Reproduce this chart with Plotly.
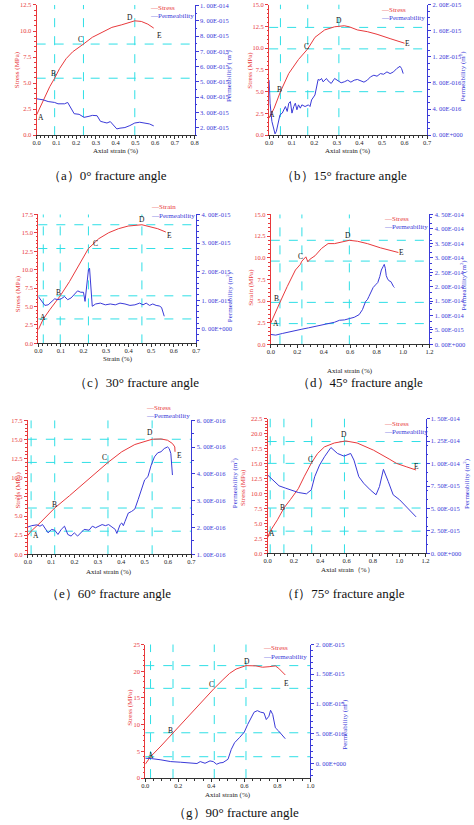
import plotly.graph_objects as go

W, H = 474, 825
FONT = "Liberation Serif, Times New Roman, serif"
RED = "#e8393c"
BLUE = "#3a3ad8"
CYAN = "#2fdfe6"

# ---------------- data ----------------
# (a) 0 deg  (permeability in 1e-15 m^2)
a_stress_strain = [0, 0.033, 0.066, 0.091, 0.116, 0.149, 0.182, 0.237, 0.282, 0.331, 0.381, 0.431, 0.497, 0.53, 0.563, 0.593]
a_stress = [1.96, 3.39, 4.65, 5.47, 6.39, 7.34, 8.0, 8.75, 9.4, 9.87, 10.35, 10.6, 10.98, 10.92, 10.66, 10.28]
a_perm_strain = [0, 0.033, 0.058, 0.091, 0.108, 0.141, 0.157, 0.174, 0.19, 0.215, 0.24, 0.265, 0.282, 0.306,
                 0.323, 0.34, 0.356, 0.373, 0.389, 0.406, 0.422, 0.447, 0.472, 0.497, 0.522, 0.547, 0.571, 0.593]
a_perm = [3.89, 3.82, 3.71, 3.65, 3.56, 3.56, 3.65, 3.28, 2.91, 2.87, 2.67, 2.74, 2.8, 2.78,
          2.41, 2.35, 2.3, 2.39, 2.17, 1.91, 1.96, 2.0, 2.13, 2.3, 2.35, 2.3, 2.24, 2.11]
a_points = ["A", "B", "C", "D", "E"]
a_point_x = [0.02, 0.083, 0.22, 0.475, 0.621]
a_point_y = [1.71, 5.92, 9.15, 11.3, 9.56]
a_grid_x = [0.091, 0.237, 0.497]
a_grid_y = [5.47, 8.75]
a_rtick_vals = [2, 3, 4, 5, 6, 7, 8, 9, 10]
a_rtick_text = ["2. 00E-015", "3. 00E-015", "4. 00E-015", "5. 00E-015", "6. 00E-015",
                "7. 00E-015", "8. 00E-015", "9. 00E-015", "1. 00E-014"]

# (b) 15 deg  (permeability in 1e-16 m^2)
b_stress_strain = [0, 0.022, 0.05, 0.087, 0.13, 0.171, 0.203, 0.246, 0.29, 0.333, 0.355, 0.391, 0.435, 0.478, 0.536, 0.6]
b_stress = [1.97, 3.1, 5.0, 7.1, 8.7, 9.92, 11.25, 12.1, 12.46, 12.58, 12.46, 12.1, 11.9, 11.6, 11.1, 10.57]
b_perm_strain = [0, 0.004, 0.012, 0.022, 0.026, 0.032, 0.041, 0.048, 0.058, 0.065, 0.072, 0.080, 0.087, 0.094,
                 0.101, 0.109, 0.116, 0.123, 0.130, 0.138, 0.145, 0.159, 0.174, 0.181, 0.188, 0.203, 0.210,
                 0.217, 0.225, 0.232, 0.239, 0.246, 0.254, 0.261, 0.275, 0.290, 0.304, 0.319, 0.333, 0.348,
                 0.362, 0.377, 0.391, 0.406, 0.420, 0.435, 0.449, 0.464, 0.478, 0.493, 0.507, 0.522, 0.536,
                 0.551, 0.565, 0.580, 0.587, 0.594]
b_perm = [8.43, 4.9, 2.12, 0.86, 0.2, 0.6, 2.37, 3.13, 3.38, 3.89, 4.39, 3.64, 4.9, 5.15,
          3.38, 4.39, 4.9, 3.89, 4.65, 4.14, 4.65, 4.39, 4.65, 4.39, 5.4, 6.16, 7.17,
          8.54, 8.43, 8.69, 8.18, 8.43, 8.69, 8.33, 7.93, 8.69, 8.33, 8.03, 8.18, 8.43,
          8.13, 8.43, 8.54, 8.33, 8.13, 8.43, 8.94, 9.19, 9.04, 9.44, 9.34, 9.70, 9.44,
          9.70, 10.2, 10.56, 10.2, 9.44]
b_points = ["A", "B", "C", "D", "E"]
b_point_x = [0.0145, 0.048, 0.167, 0.309, 0.613]
b_point_y = [2.35, 5.27, 10.23, 13.14, 10.57]
b_grid_x = [0.05, 0.171, 0.309]
b_grid_y = [5.0, 9.92, 12.39]
b_rtick_vals = [0, 4, 8, 12, 16, 20]
b_rtick_text = ["0. 00E+000", "4. 00E-016", "8. 00E-016", "1. 20E-015", "1. 60E-015", "2. 00E-015"]

# (c) 30 deg  (permeability in 1e-15 m^2)
c_stress_strain = [0, 0.022, 0.051, 0.097, 0.138, 0.181, 0.222, 0.268, 0.312, 0.355, 0.398, 0.459, 0.485, 0.529, 0.565]
c_stress = [1.88, 3.32, 4.58, 6.46, 8.39, 10.63, 12.88, 14.22, 15.03, 15.57, 15.93, 16.11, 15.93, 15.57, 15.12]
c_perm_strain = [0, 0.0145, 0.029, 0.0435, 0.058, 0.0725, 0.087, 0.101, 0.116, 0.13, 0.145, 0.159, 0.174,
                 0.188, 0.2, 0.207, 0.214, 0.222, 0.227, 0.233, 0.239, 0.254, 0.275, 0.297, 0.319, 0.341,
                 0.362, 0.384, 0.406, 0.428, 0.449, 0.464, 0.478, 0.493, 0.507, 0.522, 0.536, 0.546, 0.553, 0.558]
c_perm = [1.13, 0.96, 0.82, 0.84, 0.96, 1.05, 1.02, 1.05, 1.13, 1.02, 1.08, 1.19, 1.33,
          1.28, 1.28, 0.96, 1.42, 2.06, 2.12, 1.54, 0.79, 0.87, 0.90, 0.84, 0.87, 0.84,
          0.90, 0.87, 0.82, 0.84, 0.90, 0.84, 0.90, 0.82, 0.87, 0.82, 0.80, 0.75, 0.55, 0.44]
c_points = ["A", "B", "C", "D", "E"]
c_point_x = [0.019, 0.091, 0.254, 0.459, 0.582]
c_point_y = [3.54, 6.96, 13.55, 16.83, 14.67]
c_grid_x = [0.022, 0.097, 0.222, 0.459]
c_grid_y = [3.32, 6.46, 12.88, 16.11]
c_rtick_vals = [0, 1, 2, 3, 4]
c_rtick_text = ["0. 00E+000", "1. 00E-015", "2. 00E-015", "3. 00E-015", "4. 00E-015"]

# (d) 45 deg  (permeability in 1e-14 m^2)
d_stress_strain = [0, 0.032, 0.069, 0.124, 0.186, 0.223, 0.235, 0.265, 0.28, 0.297, 0.334, 0.383, 0.433,
                   0.482, 0.532, 0.594, 0.656, 0.73, 0.829, 0.915, 0.965]
d_stress = [2.48, 3.63, 4.85, 6.68, 8.59, 9.24, 9.62, 10.11, 9.54, 9.85, 10.23, 11.07, 11.64,
            11.64, 11.83, 12.02, 11.91, 11.64, 11.15, 10.76, 10.61]
d_perm_strain = [0, 0.037, 0.087, 0.136, 0.186, 0.235, 0.285, 0.334, 0.383, 0.433, 0.482, 0.52, 0.557,
                 0.594, 0.631, 0.668, 0.693, 0.717, 0.73, 0.742, 0.76, 0.774, 0.792, 0.809, 0.824, 0.836,
                 0.849, 0.858, 0.866, 0.873, 0.883, 0.895, 0.908, 0.918, 0.928, 0.935]
d_perm = [0.344, 0.321, 0.378, 0.435, 0.481, 0.527, 0.573, 0.619, 0.664, 0.722, 0.767, 0.836, 0.848,
          0.893, 0.939, 1.031, 1.203, 1.489, 1.546, 1.661, 1.833, 1.970, 2.062, 2.142, 2.348, 2.577,
          2.692, 2.772, 2.634, 2.383, 2.268, 2.199, 2.176, 2.062, 2.005, 1.970]
d_points = ["A", "B", "C", "D", "E"]
d_point_x = [0.037, 0.042, 0.228, 0.581, 0.99]
d_point_y = [2.4, 5.27, 10.19, 12.6, 10.57]
d_grid_x = [0.069, 0.235, 0.594]
d_grid_y = [2.4, 4.85, 9.62, 12.02]
d_rtick_vals = [0, 0.5, 1, 1.5, 2, 2.5, 3, 3.5, 4, 4.5]
d_rtick_text = ["0. 00E+000", "5. 00E-015", "1. 00E-014", "1. 50E-014", "2. 00E-014",
                "2. 50E-014", "3. 00E-014", "3. 50E-014", "4. 00E-014", "4. 50E-014"]

# (e) 60 deg  (permeability in 1e-16 m^2)
e_stress_strain = [0, 0.014, 0.052, 0.115, 0.178, 0.248, 0.343, 0.402, 0.458, 0.532, 0.57, 0.598, 0.619, 0.629, 0.63]
e_stress = [2.46, 3.02, 4.1, 6.05, 7.65, 9.51, 12.01, 13.4, 14.35, 15.04, 15.08, 14.91, 14.48, 14.04, 13.4]
e_perm_strain = [0, 0.017, 0.038, 0.052, 0.063, 0.073, 0.087, 0.101, 0.115, 0.129, 0.143, 0.157, 0.171,
                 0.185, 0.199, 0.213, 0.227, 0.241, 0.262, 0.276, 0.29, 0.304, 0.318, 0.332, 0.346, 0.36,
                 0.374, 0.381, 0.388, 0.395, 0.402, 0.409, 0.416, 0.43, 0.444, 0.458, 0.472, 0.486, 0.5,
                 0.514, 0.528, 0.542, 0.556, 0.57, 0.584, 0.598, 0.605, 0.612, 0.616, 0.619]
e_perm = [2.02, 2.07, 2.10, 2.05, 2.11, 1.99, 1.80, 1.93, 1.90, 1.74, 1.93, 2.05, 1.74,
          1.68, 1.80, 1.68, 1.80, 1.93, 1.90, 2.05, 1.99, 2.05, 2.11, 2.07, 2.11, 2.02,
          1.93, 1.78, 1.93, 2.11, 2.17, 2.07, 2.23, 2.54, 2.60, 2.69, 3.04, 3.41, 3.78,
          3.90, 4.33, 4.64, 4.79, 4.83, 4.95, 5.01, 4.95, 4.77, 4.40, 3.96]
e_points = ["A", "B", "C", "D", "E"]
e_point_x = [0.034, 0.112, 0.329, 0.524, 0.65]
e_point_y = [2.46, 6.48, 12.66, 15.86, 12.88]
e_grid_x = [0.014, 0.115, 0.343, 0.532]
e_grid_y = [3.02, 6.05, 12.01, 15.04]
e_rtick_vals = [1, 2, 3, 4, 5, 6]
e_rtick_text = ["1. 00E-016", "2. 00E-016", "3. 00E-016", "4. 00E-016", "5. 00E-016", "6. 00E-016"]

# (f) 75 deg  (permeability in 1e-14 m^2)
f_stress_strain = [0, 0.02, 0.075, 0.124, 0.174, 0.233, 0.28, 0.333, 0.38, 0.432, 0.507, 0.593, 0.68,
                   0.805, 0.929, 0.979, 1.053, 1.128]
f_stress = [2.6, 3.7, 5.6, 7.57, 9.0, 10.8, 12.9, 15.1, 16.7, 17.8, 18.45, 18.79, 18.45,
            17.24, 15.7, 15.04, 14.48, 13.93]
f_perm_strain = [0, 0.037, 0.087, 0.137, 0.186, 0.233, 0.295, 0.332, 0.358, 0.395, 0.432, 0.481, 0.531,
                 0.581, 0.631, 0.656, 0.693, 0.73, 0.78, 0.824, 0.85, 0.88, 0.917, 0.954, 1.003, 1.066, 1.128]
f_perm = [0.873, 0.818, 0.752, 0.726, 0.70, 0.678, 0.663, 0.707, 0.854, 0.984, 1.076, 1.179, 1.113,
          1.083, 1.113, 1.039, 0.854, 0.781, 0.707, 0.652, 0.744, 0.936, 0.799, 0.652, 0.597, 0.505, 0.406]
f_points = ["A", "B", "C", "D", "E"]
f_point_x = [0.037, 0.112, 0.323, 0.579, 1.13]
f_point_y = [3.32, 7.68, 15.7, 19.85, 14.48]
f_grid_x = [0.02, 0.124, 0.335, 0.584]
f_grid_y = [3.7, 7.57, 15.04, 18.69]
f_rtick_vals = [0, 0.25, 0.5, 0.75, 1.0, 1.25, 1.5]
f_rtick_text = ["0. 00E+000", "2. 50E-015", "5. 00E-015", "7. 50E-015", "1. 00E-014", "1. 25E-014", "1. 50E-014"]

# (g) 90 deg  (permeability in 1e-15 m^2)
g_stress_strain = [0, 0.032, 0.095, 0.168, 0.25, 0.33, 0.418, 0.47, 0.511, 0.55, 0.61, 0.67, 0.71, 0.75,
                   0.788, 0.808, 0.828, 0.848]
g_stress = [2.6, 4.0, 6.0, 8.48, 11.3, 14.0, 16.8, 18.4, 19.6, 20.4, 21.05, 21.0, 20.75, 20.85,
            21.0, 20.55, 19.9, 19.3]
g_perm_strain = [0, 0.036, 0.095, 0.154, 0.214, 0.273, 0.313, 0.333, 0.362, 0.392, 0.412, 0.432, 0.452,
                 0.471, 0.501, 0.521, 0.541, 0.570, 0.6, 0.62, 0.64, 0.659, 0.679, 0.699, 0.719, 0.733,
                 0.749, 0.759, 0.772, 0.788, 0.808, 0.828, 0.848]
g_perm = [0.084, 0.079, 0.057, 0.028, 0.017, 0.006, -0.005, 0.028, 0.0, 0.039, 0.028, -0.017, 0.006,
          0.012, 0.067, 0.234, 0.346, 0.43, 0.525, 0.652, 0.764, 0.86, 0.886, 0.86, 0.848, 0.736,
          0.792, 0.893, 0.82, 0.597, 0.542, 0.485, 0.413]
g_points = ["A", "B", "C", "D", "E"]
g_point_x = [0.032, 0.154, 0.402, 0.614, 0.854]
g_point_y = [4.27, 8.9, 17.6, 21.9, 17.76]
g_grid_x = [0.032, 0.168, 0.418, 0.61]
g_grid_y = [4.0, 8.48, 16.8, 21.05]
g_rtick_vals = [0, 0.5, 1.0, 1.5, 2.0]
g_rtick_text = ["0. 00E+000", "5. 00E-016", "1. 00E-015", "1. 50E-015", "2. 00E-015"]

captions = ["（a）0° fracture angle", "（b）15° fracture angle", "（c）30° fracture angle",
            "（d）45° fracture angle", "（e）60° fracture angle", "（f）75° fracture angle",
            "（g）90° fracture angle"]

# ---------------- layout per panel (pixel geometry) ----------------
panels = [
    dict(box=(33.3, 194.3, 1.0, 132.3), xr=[0, 0.8], xdt=0.1, yr=[0, 12.5], ydt=2.5, yfmt=".1f",
         rr=[1.5, 10.05], sx=a_stress_strain, sy=a_stress, px=a_perm_strain, py=a_perm,
         pts=(a_points, a_point_x, a_point_y), gx=a_grid_x, gy=a_grid_y, rtv=a_rtick_vals, rtt=a_rtick_text,
         leg=("Stress", 147, 4.0, 12.3), xt=("Axial strain (%)", 114, 148.5),
         lt=("Stress (MPa)", 14, 66), rt=("Permeability ( m<sup>2</sup>)", 229, 72), cap=(106, 172.7)),
    dict(box=(270.3, 431.3, 0.7, 132.3), xr=[0, 0.7], xdt=0.1, yr=[0, 15], ydt=2.5, yfmt=".1f",
         rr=[0, 20], sx=b_stress_strain, sy=b_stress, px=b_perm_strain, py=b_perm,
         pts=(b_points, b_point_x, b_point_y), gx=b_grid_x, gy=b_grid_y, rtv=b_rtick_vals, rtt=b_rtick_text,
         leg=("Stress", 382, 5.7, 14.0), xt=("Axial strain (%)", 351, 148.5),
         lt=("Stress (MPa)", 251, 67), rt=("Permeability (m<sup>2</sup>)", 467, 73), cap=(347, 172.7)),
    dict(box=(35, 196, 212.3, 342.3), xr=[0, 0.7], xdt=0.1, yr=[0, 17.5], ydt=2.5, yfmt=".1f",
         rr=[-0.509, 4.0], sx=c_stress_strain, sy=c_stress, px=c_perm_strain, py=c_perm,
         pts=(c_points, c_point_x, c_point_y), gx=c_grid_x, gy=c_grid_y, rtv=c_rtick_vals, rtt=c_rtick_text,
         leg=("Strain", 148, 205, 214), xt=("Strain (%)", 116, 358),
         lt=("Stress (MPa)", 14, 292), rt=("Permeability (m<sup>2</sup>)", 230, 295), cap=(135, 381.7)),
    dict(box=(272, 433.7, 212.3, 343.3), xr=[0, 1.2], xdt=0.2, yr=[0, 15], ydt=2.5, yfmt=".1f",
         rr=[0, 4.5], sx=d_stress_strain, sy=d_stress, px=d_perm_strain, py=d_perm,
         pts=(d_points, d_point_x, d_point_y), gx=d_grid_x, gy=d_grid_y, rtv=d_rtick_vals, rtt=d_rtick_text,
         leg=("Stress", 385, 216.7, 225), xt=("Axial strain (%)", 353, 370),
         lt=("Strain (MPa)", 251, 286), rt=("Permeability (m<sup>2</sup>)", 468.7, 283), cap=(362.5, 381.7)),
    dict(box=(24.3, 191, 420, 555), xr=[0, 0.7], xdt=0.1, yr=[0, 17.5], ydt=2.5, yfmt=".1f",
         rr=[1, 6], sx=e_stress_strain, sy=e_stress, px=e_perm_strain, py=e_perm,
         pts=(e_points, e_point_x, e_point_y), gx=e_grid_x, gy=e_grid_y, rtv=e_rtick_vals, rtt=e_rtick_text,
         leg=("Stress", 143, 407, 415.7), xt=("Axial strain (%)", 107.5, 572.7),
         lt=("Stress (MPa)", 14, 490), rt=("Permeability (m<sup>2</sup>)", 235.7, 483), cap=(106.7, 595)),
    dict(box=(268.7, 429.7, 418.3, 554), xr=[0, 1.2], xdt=0.2, yr=[0, 22.5], ydt=2.5, yfmt=".1f",
         rr=[0, 1.5], sx=f_stress_strain, sy=f_stress, px=f_perm_strain, py=f_perm,
         pts=(f_points, f_point_x, f_point_y), gx=f_grid_x, gy=f_grid_y, rtv=f_rtick_vals, rtt=f_rtick_text,
         leg=("Stress", 385, 423.3, 432), xt=("Axial strain（%）", 350, 570.7),
         lt=("Stress (MPa)", 244.3, 487.5), rt=("Permeability (m<sup>2</sup>)", 472, 484), cap=(346, 595)),
    dict(box=(144, 312.3, 646, 780.7), xr=[0, 1.0], xdt=0.2, yr=[0, 25], ydt=5, yfmt="d",
         rr=[-0.25, 2.0], sx=g_stress_strain, sy=g_stress, px=g_perm_strain, py=g_perm,
         pts=(g_points, g_point_x, g_point_y), gx=g_grid_x, gy=g_grid_y, rtv=g_rtick_vals, rtt=g_rtick_text,
         leg=("Stress", 261.7, 649.3, 658.3), xt=("Axial strain (%)", 228, 797.7),
         lt=("Stress (MPa)", 128.3, 709), rt=("Permeability (m<sup>2</sup>)", 346.7, 726.7), cap=(236, 815)),
]


def PX(x):
    return x / W


def PY(y):
    return 1 - y / H


fig = go.Figure()
layout = {}
annotations = []
shapes = []
TICK = 6.5

for i, p in enumerate(panels, start=1):
    xa = "x" if i == 1 else f"x{i}"
    nl, nr = 2 * i - 1, 2 * i
    yl = "y" if nl == 1 else f"y{nl}"
    yr = f"y{nr}"
    x0, x1, yt, yb = p["box"]

    layout["xaxis" if i == 1 else f"xaxis{i}"] = dict(
        domain=[PX(x0), PX(x1)], anchor=yl, range=p["xr"], tick0=0, dtick=p["xdt"], tickformat=".1f",
        showline=True, linecolor="#333333", linewidth=1, ticks="outside", ticklen=3, tickcolor="#333333",
        ticklabelstandoff=-2,
        tickfont=dict(family=FONT, size=TICK, color="#222222"), showgrid=False, zeroline=False,
        minor=dict(ticks="outside", ticklen=1.5, tickcolor="#333333"))
    layout["yaxis" if nl == 1 else f"yaxis{nl}"] = dict(
        domain=[PY(yb), PY(yt)], anchor=xa, range=p["yr"], tick0=0, dtick=p["ydt"], tickformat=p["yfmt"],
        showline=True, linecolor=RED, linewidth=1, ticks="outside", ticklen=3, tickcolor=RED,
        tickfont=dict(family=FONT, size=TICK, color=RED), showgrid=False, zeroline=False,
        minor=dict(ticks="outside", ticklen=1.5, tickcolor=RED))
    layout[f"yaxis{nr}"] = dict(
        overlaying=yl, side="right", anchor=xa, range=p["rr"], tickvals=p["rtv"], ticktext=p["rtt"],
        showline=True, linecolor=BLUE, linewidth=1, ticks="outside", ticklen=3, tickcolor=BLUE,
        tickfont=dict(family=FONT, size=TICK, color=BLUE), showgrid=False, zeroline=False,
        minor=dict(ticks="outside", ticklen=1.5, tickcolor=BLUE))

    # dashed reference grid through the characteristic points
    for v in p["gx"]:
        shapes.append(dict(type="line", xref=xa, yref=f"{yl} domain", x0=v, x1=v, y0=0, y1=1,
                           line=dict(color=CYAN, width=1, dash="dash"), layer="below"))
    for h in p["gy"]:
        shapes.append(dict(type="line", xref=f"{xa} domain", yref=yl, x0=0, x1=1, y0=h, y1=h,
                           line=dict(color=CYAN, width=1, dash="dash"), layer="below"))

    fig.add_trace(go.Scatter(x=p["px"], y=p["py"], xaxis=xa, yaxis=yr, mode="lines",
                             line=dict(color=BLUE, width=1), showlegend=False, hoverinfo="skip"))
    fig.add_trace(go.Scatter(x=p["sx"], y=p["sy"], xaxis=xa, yaxis=yl, mode="lines",
                             line=dict(color=RED, width=1), showlegend=False, hoverinfo="skip"))

    labels, lx, ly = p["pts"]
    for t, xv, yv in zip(labels, lx, ly):
        annotations.append(dict(text=t, x=xv, y=yv, xref=xa, yref=yl, showarrow=False,
                                font=dict(family=FONT, size=7.5, color="#111111")))

    name, lgx, lgy1, lgy2 = p["leg"]
    annotations.append(dict(text="—" + name, x=PX(lgx), y=PY(lgy1), xref="paper", yref="paper",
                            xanchor="left", yanchor="middle", showarrow=False,
                            font=dict(family=FONT, size=7, color=RED)))
    annotations.append(dict(text="—Permeability", x=PX(lgx), y=PY(lgy2), xref="paper", yref="paper",
                            xanchor="left", yanchor="middle", showarrow=False,
                            font=dict(family=FONT, size=7, color=BLUE)))

    t, tx, ty = p["xt"]
    annotations.append(dict(text=t, x=PX(tx), y=PY(ty), xref="paper", yref="paper", showarrow=False,
                            xanchor="center", yanchor="middle", font=dict(family=FONT, size=7, color="#222222")))
    t, tx, ty = p["lt"]
    annotations.append(dict(text=t, x=PX(tx), y=PY(ty), xref="paper", yref="paper", showarrow=False,
                            textangle=-90, xanchor="center", yanchor="middle",
                            font=dict(family=FONT, size=7, color=RED)))
    t, tx, ty = p["rt"]
    annotations.append(dict(text=t, x=PX(tx), y=PY(ty), xref="paper", yref="paper", showarrow=False,
                            textangle=-90, xanchor="center", yanchor="middle",
                            font=dict(family=FONT, size=7, color=BLUE)))
    cx, cy = p["cap"]
    annotations.append(dict(text=captions[i - 1], x=PX(cx), y=PY(cy), xref="paper", yref="paper",
                            showarrow=False, xanchor="center", yanchor="middle",
                            font=dict(family=FONT, size=13, color="#111111")))

fig.update_layout(width=W, height=H, margin=dict(l=0, r=0, t=0, b=0),
                  paper_bgcolor="white", plot_bgcolor="white", showlegend=False,
                  font=dict(family=FONT), annotations=annotations, shapes=shapes, **layout)

fig.write_html("out.html", config={"displayModeBar": False},
               post_script="document.body.style.margin='0';document.body.style.overflow='hidden';")
